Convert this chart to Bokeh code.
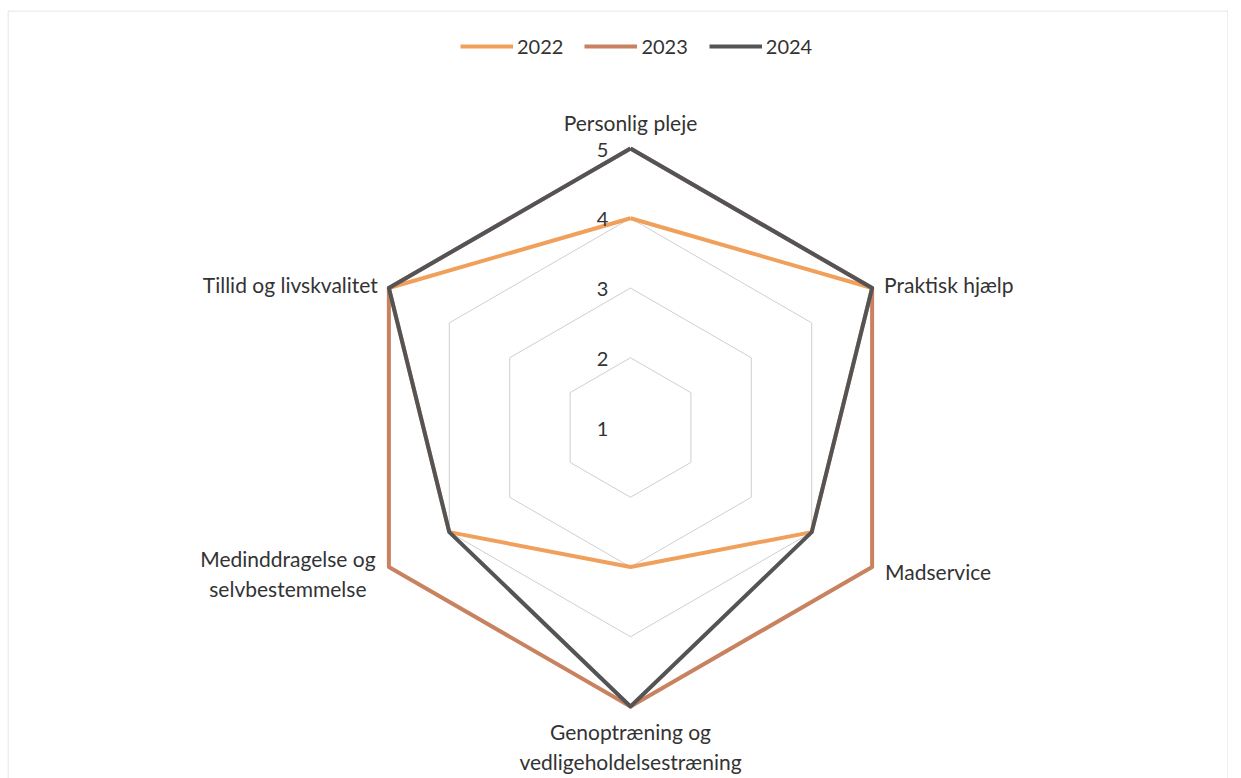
import numpy as np
from bokeh.plotting import figure
from bokeh.models import Range1d, Legend, LegendItem, ColumnDataSource
from bokeh.embed import file_html
from bokeh.resources import INLINE
from bokeh.core.properties import value

# ---- data ----
categories = ["Personlig pleje", "Praktisk hjælp", "Madservice",
              "Genoptræning og\nvedligeholdelsestræning",
              "Medinddragelse og\nselvbestemmelse", "Tillid og livskvalitet"]
years = ["2022", "2023", "2024"]
values_2022 = [4, 5, 4, 3, 4, 5]
values_2023 = [5, 5, 5, 5, 5, 5]
values_2024 = [5, 5, 4, 5, 4, 5]
tick_values = [1, 2, 3, 4, 5]
tick_labels = ["1", "2", "3", "4", "5"]

# ---- style ----
colors = ["#F0A05A", "#C8825F", "#545456"]
FONT = "Lato"
AXIS_MIN, AXIS_MAX = 1, 5
W, H = 1228, 778
BL, BT = 7, 10                 # borders so the frame outline sits where the reference frame is
FW, FH = W - BL, H - BT        # frame size
PX = 69.75                     # pixels per value unit
CX, CY = 630 - BL, 427 - BT    # centre of the radar inside the frame (px from top-left)

xr = Range1d(-CX / PX, (FW - CX) / PX)
yr = Range1d(-(FH - CY) / PX, CY / PX)
p = figure(width=W, height=H, output_backend="svg", toolbar_location=None,
           x_range=xr, y_range=yr, x_axis_type=None, y_axis_type=None,
           min_border_left=BL, min_border_top=BT, min_border_right=0, min_border_bottom=0)
p.grid.visible = False
p.outline_line_color = None
p.background_fill_color = "white"
p.border_fill_color = "white"

# chart-area border (top, left, right; bottom is cut off in the reference)
h = 0.5 / PX
p.line([xr.start + h, xr.start + h, xr.end - h, xr.end - h],
       [yr.start, yr.end - h, yr.end - h, yr.start], line_color="#dedede", line_width=1)

n = len(categories)
theta = np.arange(n) * 2 * np.pi / n


def polar(vals):
    r = np.asarray(vals, dtype=float) - AXIS_MIN
    return r * np.sin(theta), r * np.cos(theta)


# grid rings
for t in tick_values[1:]:
    gx, gy = polar([t] * n)
    p.line(np.append(gx, gx[0]), np.append(gy, gy[0]), line_color="#cfcfcf", line_width=1)

# series
series = [values_2022, values_2023, values_2024]
renderers = []
for vals, c in zip(series, colors):
    sx, sy = polar(vals)
    r = p.line(np.append(sx, sx[0]), np.append(sy, sy[0]), line_color=c,
               line_width=4, line_join="round")
    renderers.append(r)

# tick labels along the top axis
tx, ty = np.zeros(len(tick_values)), np.array(tick_values, dtype=float) - AXIS_MIN
p.text(tx, ty, text=tick_labels, x_offset=-28, y_offset=1, text_align="center",
       text_baseline="middle", text_font=value(FONT), text_font_size="20px",
       text_color="#333333")

# category labels
cx_, cy_ = polar([AXIS_MAX] * n)
x_off = [0, 12, 13, 0, -101, -11]
y_off = [-26, -4, 4, 40, 6, -4]
aligns = ["center", "left", "left", "center", "center", "right"]
src = ColumnDataSource(dict(x=cx_, y=cy_, t=categories, xo=x_off, yo=y_off, a=aligns))
p.text("x", "y", text="t", x_offset="xo", y_offset="yo", text_align="a",
       text_baseline="middle", text_font=value(FONT), text_font_size="21px",
       text_color="#333333", text_line_height=1.2, source=src)

legend = Legend(items=[LegendItem(label=y, renderers=[r]) for y, r in zip(years, renderers)],
                orientation="horizontal", location=(460 - BL, H - 58),
                glyph_width=53, glyph_height=20, label_height=20, label_standoff=4,
                spacing=21, padding=0, margin=0, border_line_color=None,
                background_fill_alpha=0, label_text_font=FONT,
                label_text_font_size="20px", label_text_color="#333333")
p.add_layout(legend, "center")

open("out.html", "w").write(file_html(p, INLINE))
